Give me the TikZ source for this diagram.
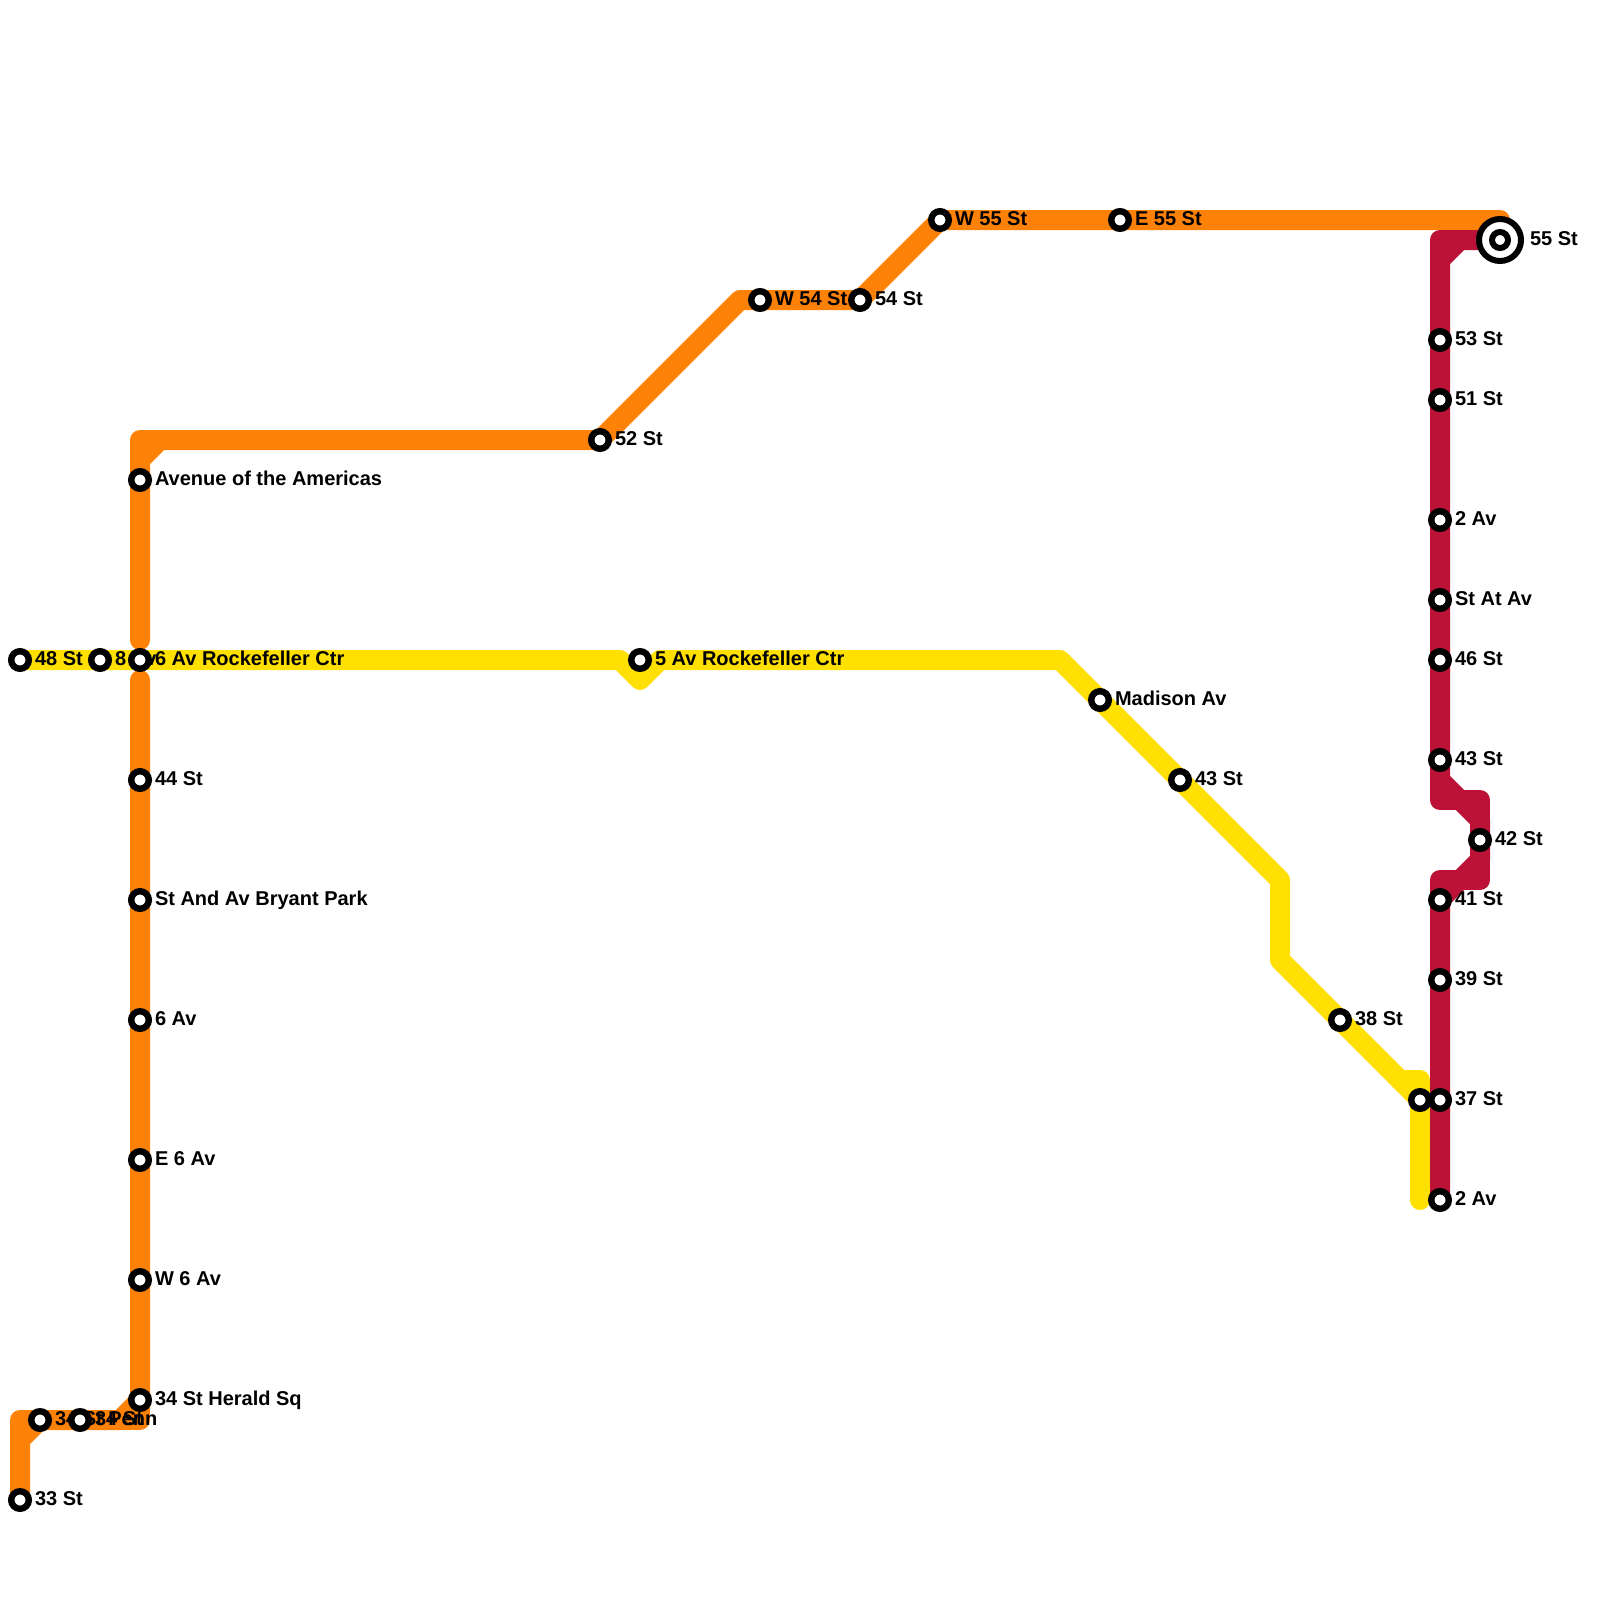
\documentclass[tikz,border=0pt]{standalone}
\usepackage{fontspec}
\setmainfont{Liberation Sans}
\tikzset{
  x=1pt,y=-1pt,
  route/.style={line width=20pt,line cap=round,line join=round},
  orangeroute/.style={route,draw=lineorange},
  yellowroute/.style={route,draw=lineyellow},
  redroute/.style={route,draw=linered},
  stationdot/.style={circle,draw=black,fill=white,line width=6.4pt,minimum size=17.6pt,inner sep=0pt,outer sep=0pt},
  stationlabel/.style={anchor=base west,inner sep=0pt,outer sep=0pt,font=\fontsize{20}{24}\selectfont\bfseries,text=black},
}
\definecolor{lineorange}{HTML}{FF8208}
\definecolor{lineyellow}{HTML}{FFE000}
\definecolor{linered}{HTML}{BC1238}
\begin{document}
\begin{tikzpicture}
\useasboundingbox (0,0) rectangle (1600,1600);
\fill[white] (0,0) rectangle (1600,1600);
% orange stations
\coordinate (a33) at (20,1500);
\coordinate (a34p) at (40,1420);
\coordinate (a34s) at (80,1420);
\coordinate (aher) at (140,1400);
\coordinate (aw6) at (140,1280);
\coordinate (ae6) at (140,1160);
\coordinate (a6a) at (140,1020);
\coordinate (abry) at (140,900);
\coordinate (a44) at (140,780);
\coordinate (aame) at (140,480);
\coordinate (a52) at (600,440);
\coordinate (aw54) at (760,300);
\coordinate (a54) at (860,300);
\coordinate (aw55) at (940,220);
\coordinate (ae55) at (1120,220);
\coordinate (hub) at (1500,240);
% yellow stations
\coordinate (y48) at (20,660);
\coordinate (y8) at (100,660);
\coordinate (y6) at (140,660);
\coordinate (y5) at (640,660);
\coordinate (ymad) at (1100,700);
\coordinate (y43) at (1180,780);
\coordinate (y38) at (1340,1020);
\coordinate (yend) at (1420,1100);
% red stations
\coordinate (r53) at (1440,340);
\coordinate (r51) at (1440,400);
\coordinate (r2a) at (1440,520);
\coordinate (rst) at (1440,600);
\coordinate (r46) at (1440,660);
\coordinate (r43) at (1440,760);
\coordinate (r42) at (1480,840);
\coordinate (r41) at (1440,900);
\coordinate (r39) at (1440,980);
\coordinate (r37) at (1440,1100);
\coordinate (r2b) at (1440,1200);
% bends, orange
\coordinate (b1) at (20,1440);
\coordinate (b2) at (20,1420);
\coordinate (b3) at (120,1420);
\coordinate (b4) at (140,1420);
\coordinate (b5) at (140,680);
\coordinate (b6) at (140,640);
\coordinate (b7) at (140,460);
\coordinate (b8) at (140,440);
\coordinate (b9) at (160,440);
\coordinate (b10) at (740,300);
\coordinate (b11) at (1480,220);
\coordinate (b12) at (1500,220);
% bends, yellow
\coordinate (c1) at (620,660);
\coordinate (c2) at (640,680);
\coordinate (c3) at (660,660);
\coordinate (c4) at (1060,660);
\coordinate (c5) at (1280,880);
\coordinate (c6) at (1280,960);
\coordinate (c7) at (1400,1080);
\coordinate (c8) at (1420,1080);
\coordinate (c9) at (1420,1200);
% bends, red
\coordinate (d1) at (1440,260);
\coordinate (d2) at (1440,240);
\coordinate (d3) at (1460,240);
\coordinate (d4) at (1440,780);
\coordinate (d5) at (1440,800);
\coordinate (d6) at (1460,800);
\coordinate (d7) at (1480,800);
\coordinate (d8) at (1480,820);
\coordinate (d9) at (1480,860);
\coordinate (d10) at (1480,880);
\coordinate (d11) at (1460,880);
\coordinate (d12) at (1440,880);
% routes
\draw[orangeroute] (a33) -- (b1) -- (a34p) -- (b3) -- (aher) -- (b5);
\draw[orangeroute] (b1) -- (b2) -- (a34p);
\draw[orangeroute] (b3) -- (b4) -- (aher);
\draw[orangeroute] (b6) -- (b7) -- (b9) -- (a52) -- (b10) -- (a54) -- (aw55) -- (b11) -- (hub);
\draw[orangeroute] (b7) -- (b8) -- (b9);
\draw[orangeroute] (b11) -- (b12) -- (hub);
\draw[yellowroute] (y48) -- (c1) -- (c2) -- (c3) -- (c4) -- (c5) -- (c6) -- (yend) -- (c9);
\draw[yellowroute] (c7) -- (c8) -- (yend);
\draw[redroute] (hub) -- (d3) -- (d1) -- (d4) -- (d8) -- (d9) -- (r41) -- (r2b);
\draw[redroute] (d3) -- (d2) -- (d1);
\draw[redroute] (d4) -- (d5) -- (d6);
\draw[redroute] (d6) -- (d7) -- (d8);
\draw[redroute] (d9) -- (d10) -- (d11);
\draw[redroute] (d11) -- (d12) -- (r41);
% labels
\foreach \c/\t in {
  a33/33 St,a34p/34 St Penn,a34s/34 St,aher/34 St Herald Sq,aw6/W 6 Av,ae6/E 6 Av,a6a/6 Av,
  abry/St And Av Bryant Park,a44/44 St,aame/Avenue of the Americas,a52/52 St,aw54/W 54 St,
  a54/54 St,aw55/W 55 St,ae55/E 55 St,y48/48 St,y8/8 Av,y6/6 Av Rockefeller Ctr,
  y5/5 Av Rockefeller Ctr,ymad/Madison Av,y43/43 St,y38/38 St,r53/53 St,r51/51 St,r2a/2 Av,
  rst/St At Av,r46/46 St,r43/43 St,r42/42 St,r41/41 St,r39/39 St,r37/37 St,r2b/2 Av}
  {\node[stationlabel] (l\c) at ([xshift=15pt,yshift=-5pt]\c) {\t};}
\node[stationlabel] (lhub) at ([xshift=30pt,yshift=-5pt]hub) {55 St};
% station markers
\foreach \c in {a33,a34p,a34s,aher,aw6,ae6,a6a,abry,a44,aame,a52,aw54,a54,aw55,ae55,
  y48,y8,y6,y5,ymad,y43,y38,yend,r53,r51,r2a,rst,r46,r43,r42,r41,r39,r37,r2b}
  {\node[stationdot] (n\c) at (\c) {};}
\node[stationdot,line width=6pt,minimum size=42pt] (nhubo) at (hub) {};
\node[stationdot,line width=6pt,minimum size=16pt] (nhubi) at (hub) {};
\end{tikzpicture}
\end{document}
